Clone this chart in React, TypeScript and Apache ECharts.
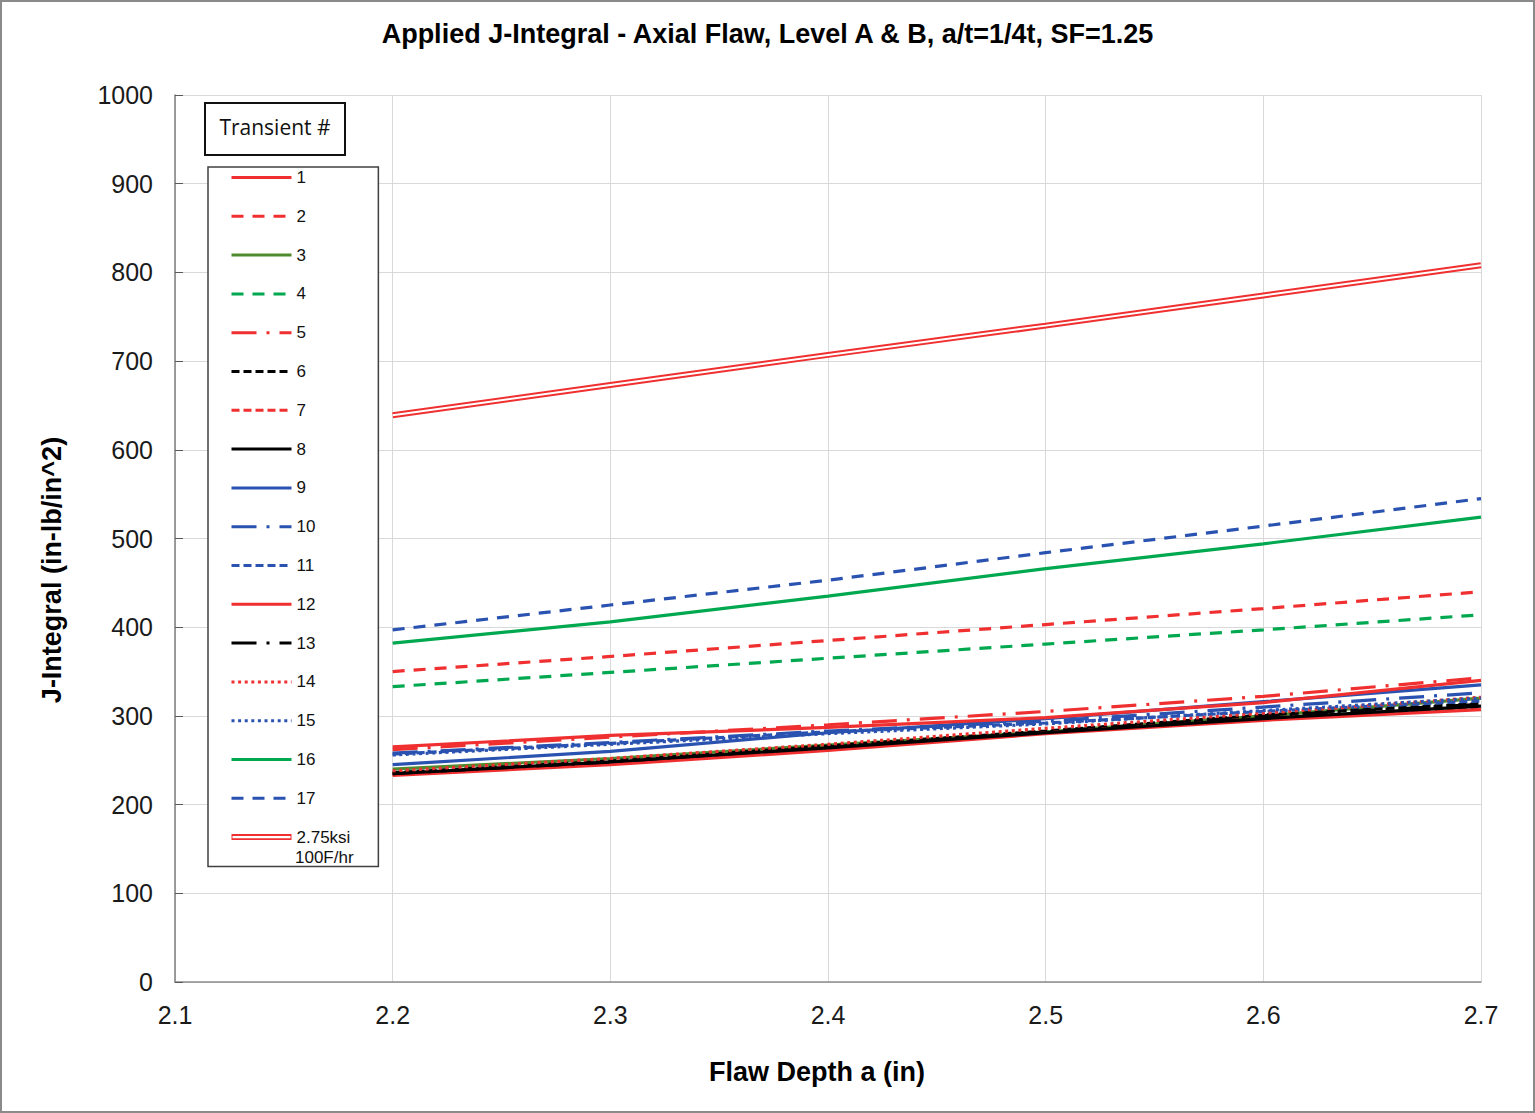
import { useEffect, useRef } from 'react';
import * as echarts from 'echarts';

// Flaw depth a (in) at which each transient was evaluated
const flawDepth = [2.2, 2.3, 2.4, 2.5, 2.6, 2.7];

// Applied J (in-lb/in^2) per transient
const t1 = [233, 245, 261, 280, 295, 307];
const t2 = [350, 367, 385, 403, 421, 440];
const t3 = [240, 252, 267, 282, 300, 320];
const t4 = [333, 349, 365, 381, 397, 414];
const t5 = [262, 276, 290, 305, 322, 343];
const t6 = [236, 249, 266, 283, 301, 314];
const t7 = [234, 246, 262, 281, 297, 309];
const t8 = [235, 248, 264, 281, 297, 311];
const t9 = [245, 260, 281, 297, 316, 335];
const t10 = [258, 270, 283, 294, 310, 326];
const t11 = [257, 269, 282, 292, 305, 317];
const t12 = [265, 278, 287, 298, 315, 340];
const t13 = [235, 248, 265, 282, 300, 313];
const t14 = [238, 252, 268, 286, 303, 321];
const t15 = [256, 268, 280, 291, 306, 320];
const t16 = [382, 406, 435, 466, 494, 524];
const t17 = [397, 425, 453, 484, 514, 545];
// 2.75 ksi pressure with 100F/hr cooldown
const ref275 = [639, 673, 707, 740, 774, 808];

const yTicks = { min: 0, max: 1000, step: 100 };
const xTicks = { min: 2.1, max: 2.7, step: 0.1 };

const RED = '#f03030';
const OLIVE = '#4e8a2e';
const GREEN = '#00a84f';
const BLUE = '#2a52b0';
const BLACK = '#000000';

const LONG_DASH = [12, 9];
const SHORT_DASH = [8, 4];
const DASH_DOT = [25, 10, 3, 10];
const DOT = [3, 3.6];

const REF_NAME = '2.75ksi 100F/hr';
const FONT = "'Liberation Sans', Arial, sans-serif";

type Spec = { name: string; values: number[]; color: string; dash: number[] | 'solid' };

const transients: Spec[] = [
  { name: '1', values: t1, color: RED, dash: 'solid' },
  { name: '2', values: t2, color: RED, dash: LONG_DASH },
  { name: '3', values: t3, color: OLIVE, dash: 'solid' },
  { name: '4', values: t4, color: GREEN, dash: LONG_DASH },
  { name: '5', values: t5, color: RED, dash: DASH_DOT },
  { name: '6', values: t6, color: BLACK, dash: SHORT_DASH },
  { name: '7', values: t7, color: RED, dash: SHORT_DASH },
  { name: '8', values: t8, color: BLACK, dash: 'solid' },
  { name: '9', values: t9, color: BLUE, dash: 'solid' },
  { name: '10', values: t10, color: BLUE, dash: DASH_DOT },
  { name: '11', values: t11, color: BLUE, dash: SHORT_DASH },
  { name: '12', values: t12, color: RED, dash: 'solid' },
  { name: '13', values: t13, color: BLACK, dash: DASH_DOT },
  { name: '14', values: t14, color: RED, dash: DOT },
  { name: '15', values: t15, color: BLUE, dash: DOT },
  { name: '16', values: t16, color: GREEN, dash: 'solid' },
  { name: '17', values: t17, color: BLUE, dash: LONG_DASH },
];

const pairs = (vals: number[]) => flawDepth.map((x, i) => [x, vals[i]]);

export default function App() {
  const ref = useRef<HTMLDivElement>(null);

  useEffect(() => {
    document.body.style.margin = '0';
    if (!ref.current) return;
    const chart = echarts.init(ref.current, undefined, { renderer: 'svg' });

    const series: any[] = transients.map((t) => ({
      type: 'line',
      name: t.name,
      data: pairs(t.values),
      symbol: 'none',
      showSymbol: false,
      color: t.color,
      lineStyle: { color: t.color, width: 3.2, type: t.dash, cap: 'butt' },
      z: 3,
    }));

    // double line: thick red stroke with a white core
    series.push({
      type: 'line',
      name: REF_NAME,
      data: pairs(ref275),
      symbol: 'none',
      showSymbol: false,
      color: RED,
      lineStyle: { color: RED, width: 6 },
      z: 3,
    });
    series.push({
      type: 'line',
      name: 'ref-core',
      data: pairs(ref275),
      symbol: 'none',
      showSymbol: false,
      color: '#ffffff',
      lineStyle: { color: '#ffffff', width: 2 },
      silent: true,
      z: 4,
    });

    chart.setOption({
      animation: false,
      backgroundColor: '#ffffff',
      title: {
        text: 'Applied J-Integral - Axial Flaw, Level A & B, a/t=1/4t, SF=1.25',
        left: 'center',
        top: 20,
        padding: 0,
        textStyle: { fontFamily: FONT, fontSize: 27, fontWeight: 'bold', color: '#000' },
      },
      grid: { left: 175, right: 54, top: 95, bottom: 131, containLabel: false },
      xAxis: {
        type: 'value',
        min: xTicks.min,
        max: xTicks.max,
        interval: xTicks.step,
        name: 'Flaw Depth a (in)',
        nameLocation: 'middle',
        nameGap: 76,
        nameTextStyle: {
          fontFamily: FONT, fontSize: 27, fontWeight: 'bold', color: '#000',
          padding: [0, 22, 0, 0],
        },
        axisLine: { show: true, lineStyle: { color: '#8c8c8c', width: 1.5 } },
        axisTick: { show: false },
        splitLine: { show: true, lineStyle: { color: '#d9d9d9', width: 1 } },
        axisLabel: {
          fontFamily: FONT, fontSize: 25, color: '#1a1a1a', margin: 20,
          formatter: (v: number) => v.toFixed(1),
        },
      },
      yAxis: {
        type: 'value',
        min: yTicks.min,
        max: yTicks.max,
        interval: yTicks.step,
        name: 'J-Integral (in-lb/in^2)',
        nameLocation: 'middle',
        nameGap: 110,
        nameRotate: 90,
        nameTextStyle: {
          fontFamily: FONT, fontSize: 27, fontWeight: 'bold', color: '#000',
          padding: [0, 63, 0, 0],
        },
        axisLine: { show: true, lineStyle: { color: '#7f7f7f', width: 1.5 } },
        axisTick: { show: true, inside: true, length: 8, lineStyle: { color: '#595959' } },
        splitLine: { show: true, lineStyle: { color: '#d9d9d9', width: 1 } },
        axisLabel: {
          fontFamily: FONT, fontSize: 25, color: '#1a1a1a', margin: 22,
          formatter: (v: number) => String(v),
        },
      },
      legend: {
        orient: 'vertical',
        left: 208,
        top: 167,
        padding: [2, 28, 21, 22],
        itemWidth: 60,
        itemHeight: 14,
        itemGap: 21.8,
        borderColor: '#404040',
        borderWidth: 1.5,
        backgroundColor: '#ffffff',
        selectedMode: false,
        itemStyle: { opacity: 0 },
        lineStyle: { width: 3 },
        textStyle: { fontFamily: FONT, fontSize: 17, color: '#111', lineHeight: 14 },
        formatter: (name: string) => (name === REF_NAME ? '2.75ksi' : name),
        data: [
          ...transients.map((t) => ({ name: t.name })),
          {
            name: REF_NAME,
            icon: 'path://M0,0H60V6H0Z M1,1.8V4.2H59V1.8Z',
            itemStyle: { opacity: 1, color: RED },
          },
        ],
        z: 10,
      },
      graphic: [
        {
          type: 'rect',
          shape: { x: 1, y: 1, width: 1533, height: 1111 },
          style: { fill: 'none', stroke: '#8a8a8a', lineWidth: 2 },
          silent: true,
          z: 0,
        },
        {
          type: 'group',
          z: 20,
          children: [
            {
              type: 'rect',
              shape: { x: 205, y: 103, width: 140, height: 52 },
              style: { fill: '#ffffff', stroke: '#111111', lineWidth: 2 },
            },
            {
              type: 'text',
              x: 275,
              y: 127,
              style: {
                text: 'Transient #',
                fontFamily: "'Open Sans', sans-serif",
                fontSize: 21,
                fill: '#111',
                align: 'center',
                verticalAlign: 'middle',
              },
            },
          ],
        },
        {
          type: 'text',
          x: 295,
          y: 857,
          z: 20,
          style: {
            text: '100F/hr',
            fontFamily: FONT,
            fontSize: 17,
            fill: '#111',
            align: 'left',
            verticalAlign: 'middle',
          },
        },
      ],
      series,
    });

    return () => chart.dispose();
  }, []);

  return <div ref={ref} style={{ width: 1535, height: 1113 }} />;
}
